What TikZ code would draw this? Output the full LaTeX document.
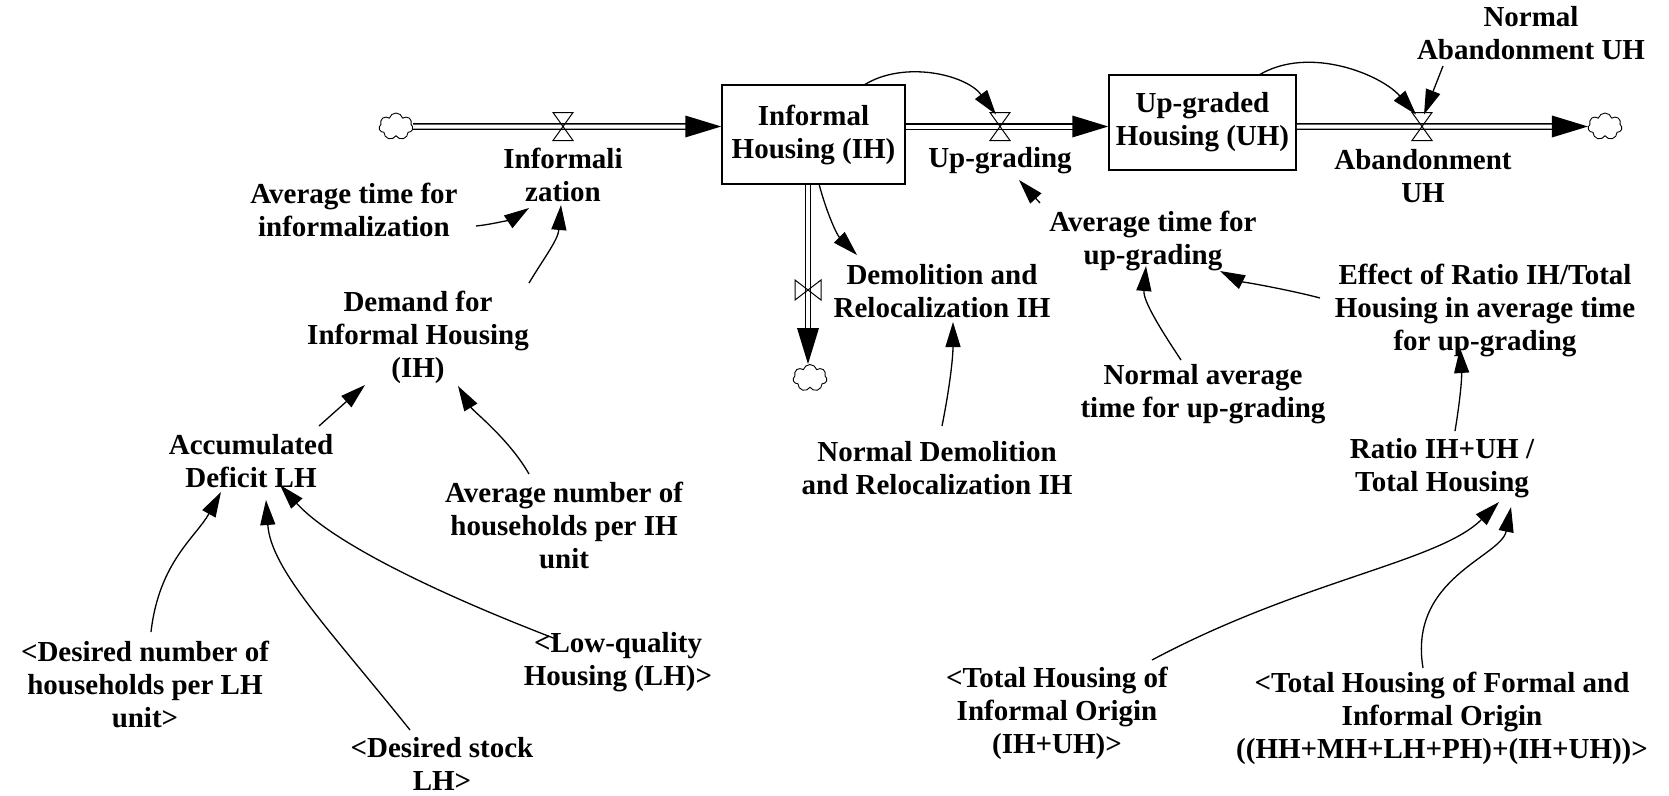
\documentclass[tikz,border=0pt]{standalone}
\usepackage{fontspec}
\setmainfont{Liberation Serif}
\usetikzlibrary{arrows.meta,shapes.symbols}
\newcommand\vlvh[1]{\draw[vl] ([shift={(-10,-14)}]#1) -- ++(20,0) -- ++(-20,28) -- ++(20,0) -- cycle;}
\newcommand\vlvv[1]{\draw[vl] ([shift={(-13,-10)}]#1) -- ++(0,20) -- ++(26,-20) -- ++(0,20) -- cycle;}
\begin{document}
\begin{tikzpicture}[x=1pt,y=-1pt,
  lbl/.style={align=center,font=\fontsize{29}{33}\selectfont\bfseries,inner sep=0pt},
  stockbox/.style={draw,line width=1.5pt,lbl},
  link/.style={line width=1.3pt,-{Triangle[length=25pt,width=15pt]}},
  pipe/.style={double=white,double distance=4pt,line width=1.3pt},
  cloudy/.style={cloud,cloud puffs=7,draw,line width=0.9pt,minimum width=34pt,minimum height=27pt,inner sep=0pt,aspect=1.25},
  vl/.style={line width=1pt}]
\useasboundingbox (0,0) rectangle (1669,795);
% stocks
\node[stockbox,minimum width=183pt,minimum height=99pt] (IH) at (813.5,134.5) {Informal\\Housing (IH)};
\node[stockbox,minimum width=187pt,minimum height=95pt] (UH) at (1202.5,122.5) {Up-graded\\Housing (UH)};
% clouds
\node[cloudy] (c1) at (396,126.5) {};
\node[cloudy] (c2) at (1605,126.5) {};
\node[cloudy] (c3) at (810,378) {};
% valves
\coordinate (v1) at (563,126.5);
\coordinate (v2) at (1000,126.5);
\coordinate (v3) at (1422,126.5);
\coordinate (v4) at (808,290);
% labels
\node[lbl] (infz) at (563,175) {Informali\\zation};
\node[lbl] (atinf) at (354,210) {Average time for\\informalization};
\node[lbl] (dem) at (418,337) {Demand for\\Informal Housing\\(IH)};
\node[lbl] (acc) at (251,461) {Accumulated\\Deficit LH};
\node[lbl] (avn) at (564,525) {Average number of\\households per IH\\unit};
\node[lbl] (dnum) at (145,684) {<Desired number of\\households per LH\\unit>};
\node[lbl] (dstock) at (442,764) {<Desired stock\\LH>};
\node[lbl] (lq) at (618,662) {<Low-quality\\Housing (LH)>};
\node[lbl] (upg) at (1000,161) {Up-grading};
\node[lbl] (aband) at (1423,176) {Abandonment\\UH};
\node[lbl] (nab) at (1531,33) {Normal\\Abandonment UH};
\node[lbl] (demol) at (942,291) {Demolition and\\Relocalization IH};
\node[lbl] (ndem) at (937,468) {Normal Demolition\\and Relocalization IH};
\node[lbl] (atup) at (1153,241) {Average time for\\up-grading};
\node[lbl] (eff) at (1485,310) {Effect of Ratio IH/Total\\Housing in average time\\for up-grading};
\node[lbl] (nat) at (1203,394) {Normal average\\time for up-grading};
\node[lbl] (ratio) at (1442,468) {Ratio IH+UH /\\Total Housing};
\node[lbl] (thio) at (1057,713) {<Total Housing of\\Informal Origin\\(IH+UH)>};
\node[lbl] (thfi) at (1442,718) {<Total Housing of Formal and\\Informal Origin\\((HH+MH+LH+PH)+(IH+UH))>};
% pipes
\draw[pipe] (c1.east) -- ([shift={(-34,-8)}]IH.west);
\fill ([shift={(0,-8)}]IH.west) -- ++(-36,-11) -- ++(0,22) -- cycle;
\draw[pipe] ([shift={(0,-8)}]IH.east) -- ([shift={(-34,4)}]UH.west);
\fill ([shift={(0,4)}]UH.west) -- ++(-36,-11) -- ++(0,22) -- cycle;
\draw[pipe] ([shift={(0,4)}]UH.east) -- ([xshift=-34pt]c2.west);
\fill (c2.west) -- ++(-36,-11) -- ++(0,22) -- cycle;
\draw[pipe] ([shift={(-5.5,0)}]IH.south) -- ([shift={(-2,-34)}]c3.north);
\fill ([shift={(-2,0)}]c3.north) -- ++(-11,-36) -- ++(22,0) -- cycle;
\vlvh{v1}
\vlvh{v2}
\vlvh{v3}
\vlvv{v4}
% links
\draw[link] ([shift={(122,16)}]atinf.center) .. controls +(20,-2) and +(-15,10) .. ([shift={(-34,33)}]infz.center);
\draw[link] ([shift={(111,-54)}]dem.center) .. controls +(15,-25) and +(-3,35) .. ([shift={(-2,30)}]infz.center);
\draw[link] ([shift={(68,-35)}]acc.center) -- ([shift={(-53,48)}]dem.center);
\draw[link] ([shift={(-35,-51)}]avn.center) .. controls +(-20,-35) and +(15,25) .. ([shift={(40,49)}]dem.center);
\draw[link] ([shift={(6,-52)}]dnum.center) .. controls +(8,-70) and +(-25,45) .. ([shift={(-30,31)}]acc.center);
\draw[link] ([shift={(-32,-34)}]dstock.center) .. controls +(-80,-100) and +(5,70) .. ([shift={(15,39)}]acc.center);
\draw[link] ([shift={(-62,-23)}]lq.center) .. controls +(-130,-50) and +(50,55) .. ([shift={(29,24)}]acc.center);
\draw[link] ([shift={(50.5,-49.5)}]IH.center) .. controls +(40,-25) and +(-30,-40) .. ([shift={(-4,-12)}]v2);
\draw[link] ([shift={(56.5,-47.5)}]UH.center) .. controls +(50,-30) and +(-35,-40) .. ([shift={(-6,-12)}]v3);
\draw[link] ([shift={(-88,33)}]nab.center) -- ([shift={(2,-12)}]v3);
\draw[link] ([shift={(-113,-38)}]atup.center) -- ([shift={(19,19)}]upg.center);
\draw[link] ([shift={(-165,-12)}]eff.center) .. controls +(-30,-8) and +(20,10) .. ([shift={(67,30)}]atup.center);
\draw[link] ([shift={(-22,-34)}]nat.center) .. controls +(-20,-30) and +(-3,35) .. ([shift={(-7,25)}]atup.center);
\draw[link] ([shift={(13,-37)}]ratio.center) .. controls +(5,-30) and +(2,30) .. ([shift={(-25,38)}]eff.center);
\draw[link] ([shift={(95,-53)}]thio.center) .. controls +(150,-80) and +(-60,60) .. ([shift={(57,34)}]ratio.center);
\draw[link] ([shift={(-19,-50)}]thfi.center) .. controls +(-15,-90) and +(-10,50) .. ([shift={(69,39)}]ratio.center);
\draw[link] ([shift={(5.5,49.5)}]IH.center) .. controls +(8,30) and +(-20,-20) .. ([shift={(-85,-36)}]demol.center);
\draw[link] ([shift={(5,-42)}]ndem.center) .. controls +(8,-40) and +(0,35) .. ([shift={(11,31)}]demol.center);
\end{tikzpicture}
\end{document}
